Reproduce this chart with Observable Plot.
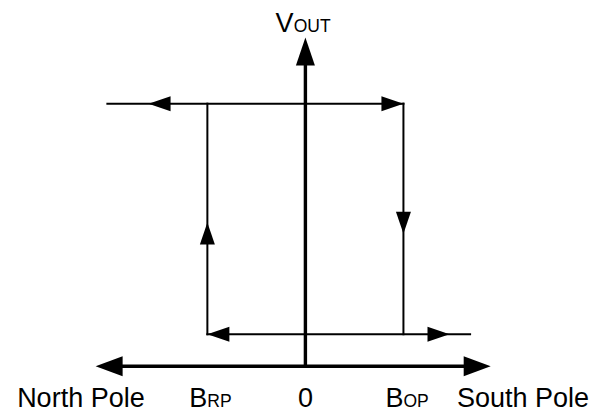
<!DOCTYPE html>
<html>
<head>
<meta charset="utf-8">
<script src="https://cdn.jsdelivr.net/npm/d3@7"></script>
<script src="https://cdn.jsdelivr.net/npm/@observablehq/plot@0.6"></script>
<style>html,body{margin:0;padding:0;background:#fff}</style>
</head>
<body>
<div id="chart"></div>
<script>
// Magnetic field (x, arbitrary units) and output levels (y, arbitrary units)
const B_RP = -1, B_OP = 1;
const V_LOW = 1, V_HIGH = 8.22;
const xAxisEnds = [-2.14, 1.89];
const yAxisTop = 10.29;
const topLineStart = -2.02;
const bottomLineEnd = 1.68;

// hysteresis loop segments
const loopX1 = [topLineStart, B_OP, B_RP, B_RP];
const loopY1 = [V_HIGH, V_HIGH, V_LOW, V_LOW];
const loopX2 = [B_OP, B_OP, bottomLineEnd, B_RP];
const loopY2 = [V_HIGH, V_LOW, V_LOW, V_HIGH];

// direction arrows on the loop (tip positions)
const arrowX = [-1.60, B_OP, B_RP, 1.47, B_RP, B_OP];
const arrowY = [V_HIGH, V_HIGH, V_LOW, V_LOW, 4.5, 4.15];
const arrowDir = ["left", "right", "left", "right", "up", "down"];

// axis labels
const labelText = ["North Pole", "B", "0", "B", "South Pole"];
const labelSub = ["", "RP", "", "OP", ""];
const labelX = [-2.29, B_RP, 0, B_OP, 2.22];
const labelY = -1.29;
const yLabel = "V", yLabelSub = "OUT";
const yLabelX = -0.12, yLabelY = 10.45;

// ---- build tables ----
const loop = loopX1.map((x1, i) => ({x1, y1: loopY1[i], x2: loopX2[i], y2: loopY2[i]}));
const arrows = arrowX.map((x, i) => ({x, y: arrowY[i], dir: arrowDir[i]}));
const labels = labelText.map((t, i) => ({text: t, sub: labelSub[i], x: labelX[i]}));

const xDomain = [-3.1, 3.0], xRange = [1, 599];
const yDomain = [-1.45, 11.45], yRange = [412, 0];
const pxX = (xDomain[1] - xDomain[0]) / (xRange[1] - xRange[0]);
const pxY = (yDomain[1] - yDomain[0]) / (yRange[0] - yRange[1]);

function arrowHead(dir, L, W) {
  const h = W / 2;
  return {draw(ctx) {
    ctx.moveTo(0, 0);
    if (dir === "up") { ctx.lineTo(-h, L); ctx.lineTo(h, L); }
    else if (dir === "down") { ctx.lineTo(-h, -L); ctx.lineTo(h, -L); }
    else if (dir === "left") { ctx.lineTo(L, -h); ctx.lineTo(L, h); }
    else { ctx.lineTo(-L, -h); ctx.lineTo(-L, h); }
    ctx.closePath();
  }};
}

const font = "Liberation Sans, Arial, Helvetica, sans-serif";
const marks = [];

// axes shafts (stop a little short of the tips so the tips stay sharp)
marks.push(Plot.link([{x1: xAxisEnds[0] + 10 * pxX, x2: xAxisEnds[1] - 10 * pxX}], {
  x1: "x1", x2: "x2", y1: 0, y2: 0, stroke: "black", strokeWidth: 3.4, strokeLinecap: "butt"
}));
marks.push(Plot.link([{y1: 0 - 1.7 * pxY, y2: yAxisTop - 10 * pxY}], {
  x1: 0, x2: 0, y1: "y1", y2: "y2", stroke: "black", strokeWidth: 3.4, strokeLinecap: "butt"
}));

// loop lines
marks.push(Plot.link(loop, {
  x1: "x1", y1: "y1", x2: "x2", y2: "y2", stroke: "black", strokeWidth: 2, strokeLinecap: "square"
}));

// loop arrowheads
for (const dir of ["left", "right", "up", "down"]) {
  marks.push(Plot.dot(arrows.filter(d => d.dir === dir), {
    x: "x", y: "y", symbol: arrowHead(dir, 22, 15), fill: "black", stroke: "none"
  }));
}

// axis arrowheads
marks.push(Plot.dot([{x: xAxisEnds[0], y: 0}], {x: "x", y: "y", symbol: arrowHead("left", 27, 20), fill: "black", stroke: "none"}));
marks.push(Plot.dot([{x: xAxisEnds[1], y: 0}], {x: "x", y: "y", symbol: arrowHead("right", 27, 20), fill: "black", stroke: "none"}));
marks.push(Plot.dot([{x: 0, y: yAxisTop}], {x: "x", y: "y", symbol: arrowHead("up", 28, 19), fill: "black", stroke: "none"}));

// bottom labels
marks.push(Plot.text(labels.filter(d => !d.sub), {
  x: "x", y: labelY, text: "text", textAnchor: "middle", lineAnchor: "bottom",
  fontSize: 27, fontFamily: font, fill: "black"
}));
marks.push(Plot.text(labels.filter(d => d.sub), {
  x: "x", y: labelY, text: "text", textAnchor: "end", lineAnchor: "bottom",
  fontSize: 27, fontFamily: font, fill: "black"
}));
marks.push(Plot.text(labels.filter(d => d.sub), {
  x: "x", y: labelY, text: "sub", textAnchor: "start", lineAnchor: "bottom",
  fontSize: 17.5, fontFamily: font, fill: "black"
}));

// y label V_OUT
marks.push(Plot.text([{x: yLabelX, y: yLabelY}], {
  x: "x", y: "y", text: () => yLabel, textAnchor: "end", lineAnchor: "bottom",
  fontSize: 27, fontFamily: font, fill: "black"
}));
marks.push(Plot.text([{x: yLabelX, y: yLabelY}], {
  x: "x", y: "y", text: () => yLabelSub, textAnchor: "start", lineAnchor: "bottom",
  fontSize: 17.5, fontFamily: font, fill: "black"
}));

const chart = Plot.plot({
  width: 598,
  height: 412,
  margin: 0,
  x: {domain: xDomain, range: xRange, axis: null},
  y: {domain: yDomain, range: yRange, axis: null},
  style: {background: "white", fontFamily: font},
  marks
});
document.getElementById("chart").appendChild(chart);
</script>
</body>
</html>
